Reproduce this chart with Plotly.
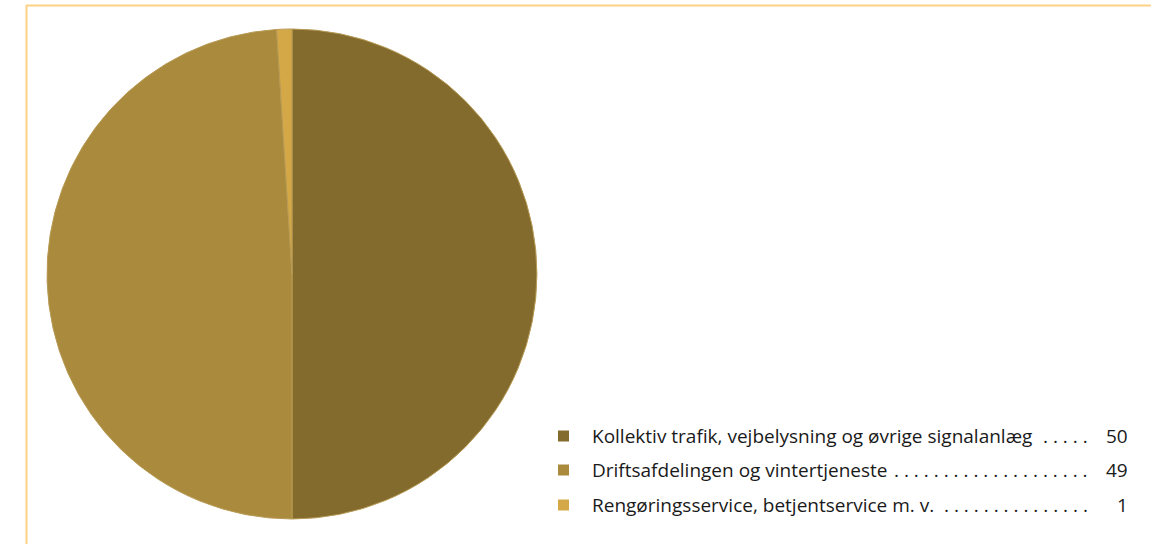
import plotly.graph_objects as go

categories = [
    "Kollektiv trafik, vejbelysning og øvrige signalanlæg",
    "Driftsafdelingen og vintertjeneste",
    "Rengøringsservice, betjentservice m. v.",
]
values = [50, 49, 1]
leader_dots = [5, 20, 15]
colors = ["#836A2D", "#AA8A3C", "#D4A846"]

W, H = 1151, 544

def px(x):
    return x / W

def py(y):
    return 1 - y / H

cx, cy, r = 292, 274, 245

fig = go.Figure(go.Pie(
    labels=categories,
    values=values,
    sort=False,
    direction="clockwise",
    rotation=0,
    textinfo="none",
    hoverinfo="label+value",
    marker=dict(colors=colors, line=dict(color="#B79A55", width=1)),
    domain=dict(x=[px(cx - r), px(cx + r)], y=[py(cy + r), py(cy - r)]),
    showlegend=False,
))

shapes = [
    dict(type="line", xref="paper", yref="paper", x0=px(26), x1=1, y0=py(5.5), y1=py(5.5),
         line=dict(color="#FDD283", width=2)),
    dict(type="line", xref="paper", yref="paper", x0=px(26.5), x1=px(26.5), y0=py(5), y1=0,
         line=dict(color="#FDD283", width=2)),
]
annotations = []
row_y = [436, 470, 505]
font = dict(family="Open Sans, Noto Sans, sans-serif", size=19, color="#1a1a1a")
for i, (lab, val, nd, col) in enumerate(zip(categories, values, leader_dots, colors)):
    y = row_y[i]
    shapes.append(dict(type="rect", xref="paper", yref="paper",
                       x0=px(558), x1=px(569), y0=py(y + 5.5), y1=py(y - 5.5),
                       fillcolor=col, line=dict(width=0)))
    annotations.append(dict(x=px(590), y=py(y), xref="paper", yref="paper", text=lab,
                            showarrow=False, xanchor="left", yanchor="middle", font=font))
    annotations.append(dict(x=px(1090), y=py(y), xref="paper", yref="paper",
                            text="\u00a0".join(["."] * nd),
                            showarrow=False, xanchor="right", yanchor="middle", font=font))
    annotations.append(dict(x=px(1130), y=py(y), xref="paper", yref="paper", text=str(val),
                            showarrow=False, xanchor="right", yanchor="middle", font=font))

fig.update_layout(
    width=W, height=H,
    margin=dict(l=0, r=0, t=0, b=0),
    paper_bgcolor="white",
    plot_bgcolor="white",
    shapes=shapes,
    annotations=annotations,
)

fig.write_html("out.html", config={"displayModeBar": False},
               post_script="document.body.style.margin='0';document.body.style.overflow='hidden';")
